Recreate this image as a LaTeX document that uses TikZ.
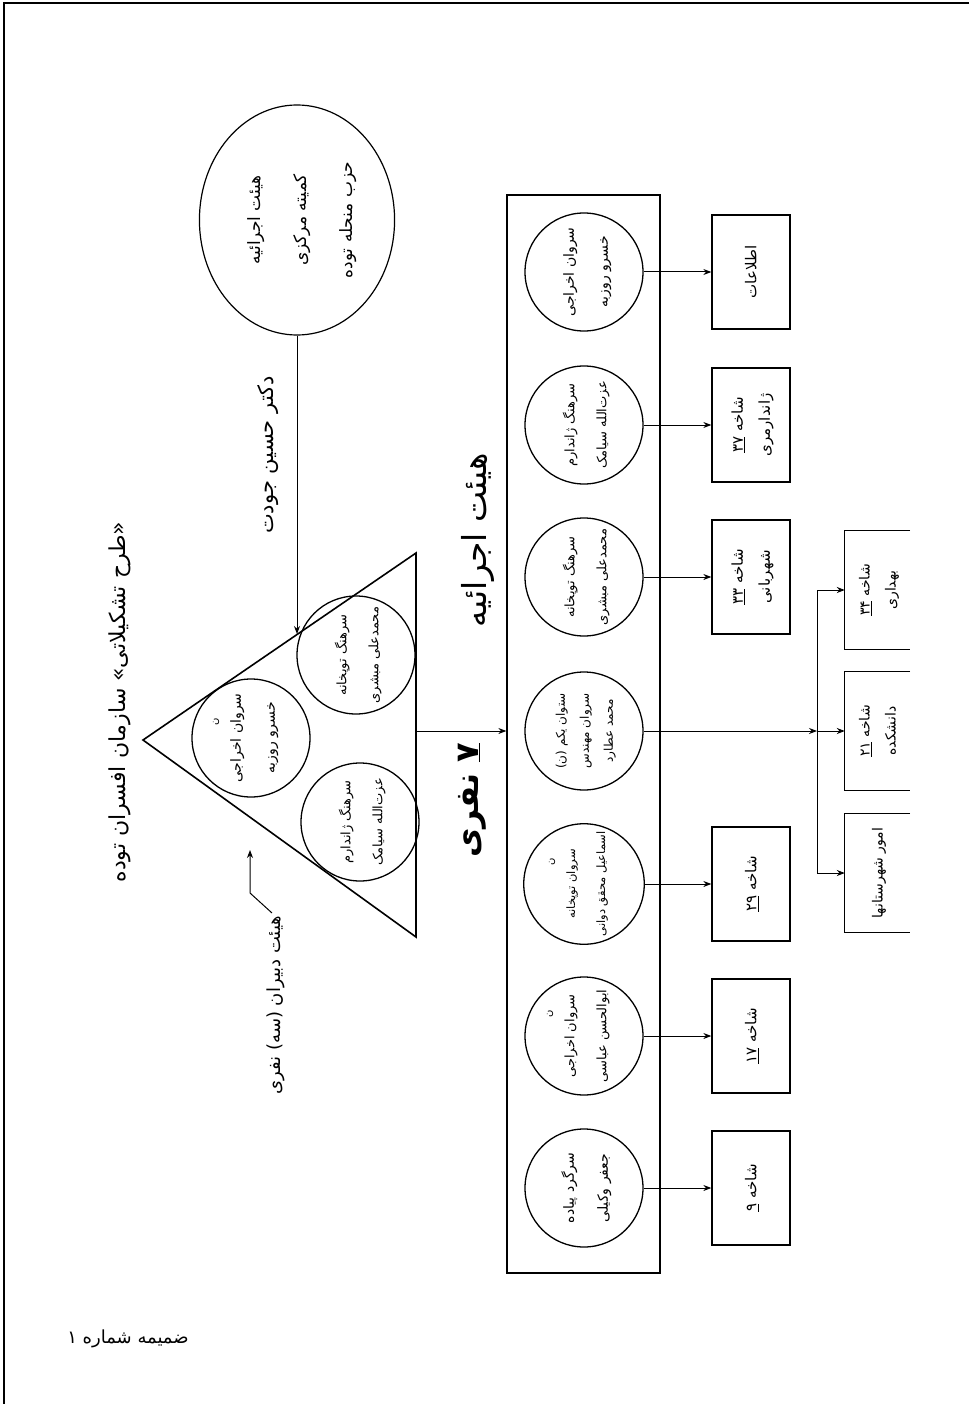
\documentclass[tikz,border=0pt]{standalone}
\usepackage{fontspec}
\usepackage{graphicx}
\usetikzlibrary{shapes.geometric,arrows.meta}
\newfontfamily\arabicfont[Script=Arabic]{DejaVu Sans}
\TeXXeTstate=1
\newcommand\fa[1]{\beginR #1\endR}
\newcommand\num[1]{\underline{\beginL #1\endL}}
\newcommand\rt[1]{\rotatebox{90}{\begin{tabular}{@{}c@{}}#1\end{tabular}}}
\tikzset{
  pers/.style={font=\arabicfont\fontsize{14}{34}\selectfont, inner sep=0pt},
  person/.style={circle, draw, line width=1.3pt, minimum size=118pt, inner sep=0pt, pers},
  branch/.style={draw, line width=1.3pt, minimum width=78pt, minimum height=114pt, inner sep=0pt, pers, font=\arabicfont\fontsize{15}{27}\selectfont},
  openbox/.style={minimum width=65pt, minimum height=118pt, inner sep=0pt, pers, font=\arabicfont\fontsize{14}{26}\selectfont},
  conn/.style={line width=1pt, -{Stealth[length=8pt,width=6pt]}},
  plain/.style={line width=1pt},
  label/.style={pers, rotate=90},
  nmark/.style={pers, rotate=90, font=\arabicfont\fontsize{10}{12}\selectfont}
}
\begin{document}
\begin{tikzpicture}[x=1pt,y=-1pt]
\useasboundingbox (0,0) rectangle (969,1404);
\draw[line width=1.2pt] (969,3) -- (4,3) -- (4,1404);

% top ellipse
\node[ellipse, draw, line width=1.2pt, minimum width=190pt, minimum height=230pt, inner sep=0pt, pers, font=\arabicfont\fontsize{17}{46}\selectfont] (ec) at (297,220)
  {\rt{\fa{هیئت اجرائیه}\\\fa{کمیته مرکزی}\\\fa{حزب منحله توده}}};

% title
\node[label, font=\arabicfont\fontsize{22}{26}\selectfont] (title) at (120,702) {\fa{«طرح تشکیلاتی» سازمان افسران توده}};

% triangle
\coordinate (apex) at (143,740);
\coordinate (ttop) at (416,553);
\coordinate (tbot) at (416,937);
\draw[line width=1.6pt] (apex) -- (ttop) -- (tbot) -- cycle;
\coordinate (tedge) at (297,634);
\draw[conn] (ec.south) -- (tedge);
\node[label, font=\arabicfont\fontsize{21}{24}\selectfont] (link) at (268,455) {\fa{دکتر حسین جودت}};

\node[person] (ta) at (251,738) {\rt{\fa{سروان اخراجی}\\\fa{خسرو روزبه}}};
\node[nmark] (tan) at (216,722) {\fa{ن}};
\node[person, font=\arabicfont\fontsize{13}{32}\selectfont] (tb) at (356,655) {\rt{\fa{سرهنگ توپخانه}\\\fa{محمدعلی مبشری}}};
\node[person, font=\arabicfont\fontsize{13}{32}\selectfont] (tc) at (360,822) {\rt{\fa{سرهنگ ژاندارم}\\\fa{عزت‌الله سیامک}}};

\node[label, font=\arabicfont\fontsize{18}{22}\selectfont] (dab) at (276,1005) {\fa{هیئت دبیران (سه) نفری}};
\coordinate (la0) at (272,913);
\coordinate (la1) at (250,893);
\coordinate (la2) at (250,850);
\draw[conn] (la0) -- (la1) -- (la2);

% executive box
\node[draw, line width=1.3pt, minimum width=153pt, minimum height=1078pt, inner sep=0pt] (exec) at (583.5,734) {};
\coordinate (tbase) at (416,731);
\draw[conn] (tbase) -- (tbase -| exec.west);
\node[label, font=\arabicfont\fontsize{33}{36}\selectfont] (execlab) at (478,540) {\fa{هیئت اجرائیه}};
\node[label, font=\arabicfont\bfseries\fontsize{32}{36}\selectfont] (seven) at (472,800) {\fa{\num{۷} نفری}};

\node[person] (c1) at (584,272) {\rt{\fa{سروان اخراجی}\\\fa{خسرو روزبه}}};
\node[person, font=\arabicfont\fontsize{13}{32}\selectfont] (c2) at (584,425) {\rt{\fa{سرهنگ ژاندارم}\\\fa{عزت‌الله سیامک}}};
\node[person, font=\arabicfont\fontsize{13}{32}\selectfont] (c3) at (584,577) {\rt{\fa{سرهنگ توپخانه}\\\fa{محمدعلی مبشری}}};
\node[person, font=\arabicfont\fontsize{12}{24}\selectfont] (c4) at (584,731) {\rt{\fa{ستوان یکم (ن)}\\\fa{سروان مهندس}\\\fa{محمد عطارد}}};
\node[person, font=\arabicfont\fontsize{11.5}{30}\selectfont] (c5) at (584,884) {\rt{\fa{سروان توپخانه}\\\fa{اسماعیل محقق دوانی}}};
\node[nmark] (c5n) at (552,862) {\fa{ن}};
\node[person, font=\arabicfont\fontsize{13}{32}\selectfont] (c6) at (584,1036) {\rt{\fa{سروان اخراجی}\\\fa{ابوالحسن عباسی}}};
\node[nmark] (c6n) at (550,1014) {\fa{ن}};
\node[person] (c7) at (584,1188) {\rt{\fa{سرگرد پیاده}\\\fa{جعفر وکیلی}}};

% branch boxes
\node[branch] (b1) at (751,272) {\rt{\fa{اطلاعات}}};
\node[branch] (b2) at (751,425) {\rt{\fa{شاخه \num{۳۷}}\\\fa{ژاندارمری}}};
\node[branch] (b3) at (751,577) {\rt{\fa{شاخه \num{۳۳}}\\\fa{شهربانی}}};
\node[branch] (b5) at (751,884) {\rt{\fa{شاخه \num{۲۹}}}};
\node[branch] (b6) at (751,1036) {\rt{\fa{شاخه \num{۱۷}}}};
\node[branch] (b7) at (751,1188) {\rt{\fa{شاخه \num{۹}}}};
\foreach \i in {1,2,3,5,6,7} \draw[conn] (c\i.east) -- (b\i.west);

% central branch
\coordinate (j) at (817,731);
\coordinate (jt) at (817,590);
\coordinate (jb) at (817,873);
\draw[conn] (c4.east) -- (j);
\draw[plain] (jt) -- (jb);
\node[openbox] (l1) at (877.5,590) {\rt{\fa{شاخه \num{۳۴}}\\\fa{بهداری}}};
\node[openbox] (l2) at (877.5,731) {\rt{\fa{شاخه \num{۲۱}}\\\fa{دانشکده}}};
\node[openbox] (l3) at (877.5,873) {\rt{\fa{امور شهرستانها}}};
\foreach \k in {l1,l2,l3}
  \draw[line width=1.3pt] (\k.north east) -- (\k.north west) -- (\k.south west) -- (\k.south east);
\draw[conn] (jt) -- (l1.west);
\draw[conn] (j) -- (l2.west);
\draw[conn] (jb) -- (l3.west);

% footer
\node[pers, font=\arabicfont\fontsize{18}{22}\selectfont] (annex) at (128,1339) {\fa{ضمیمه شماره ۱}};
\end{tikzpicture}
\end{document}
